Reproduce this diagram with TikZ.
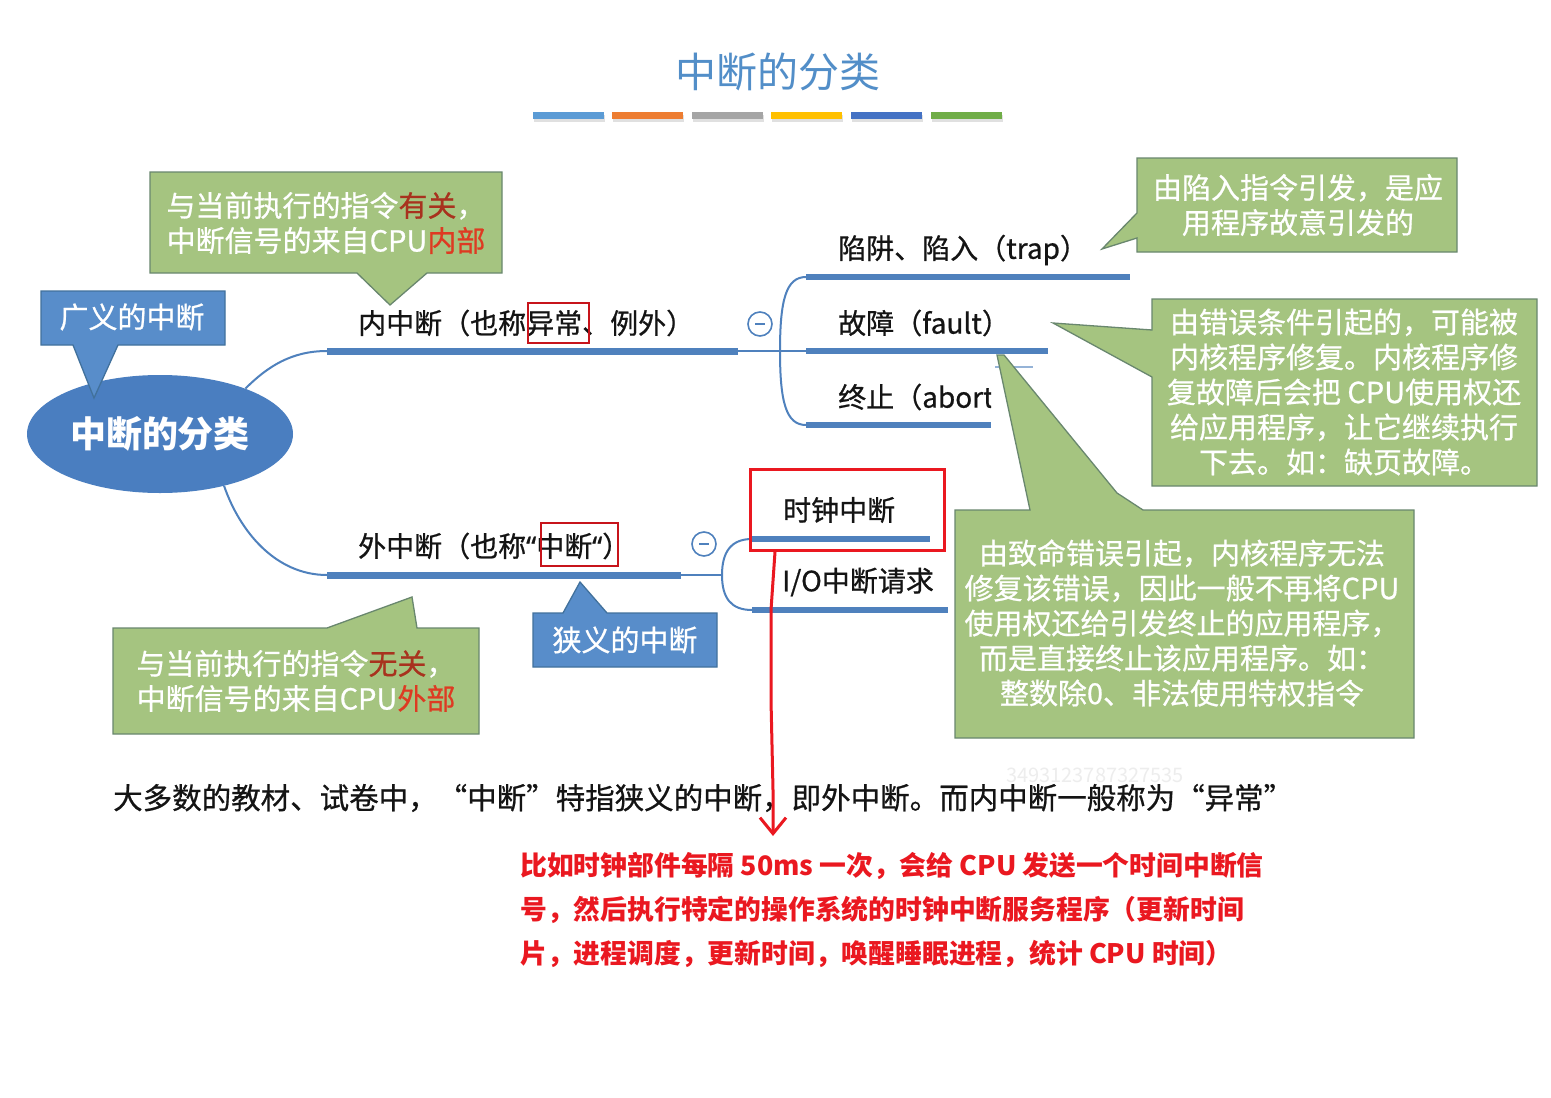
\documentclass[tikz,border=0pt]{standalone}
\usepackage{fontspec}
\setmainfont{Noto Sans CJK SC}
\newfontfamily\med[FakeBold=0.7]{Noto Sans CJK SC}
\newfontfamily\latinq[FakeBold=0.7]{Noto Sans}
\usetikzlibrary{shapes.geometric,arrows.meta,calc}
\definecolor{barblue}{RGB}{79,129,189}
\definecolor{ellblue}{RGB}{74,126,192}
\definecolor{boxblue}{RGB}{88,141,202}
\definecolor{boxblueline}{RGB}{65,113,156}
\definecolor{titleblue}{RGB}{82,142,200}
\definecolor{cgreen}{RGB}{165,196,128}
\definecolor{cgreenline}{RGB}{105,135,110}
\definecolor{txtblack}{RGB}{20,20,20}
\definecolor{darkred}{RGB}{168,50,30}
\definecolor{brred}{RGB}{222,58,34}
\definecolor{annred}{RGB}{234,24,32}
\definecolor{c1}{RGB}{91,155,213}
\definecolor{c2}{RGB}{237,125,49}
\definecolor{c3}{RGB}{165,165,165}
\definecolor{c4}{RGB}{255,192,0}
\definecolor{c5}{RGB}{68,114,196}
\definecolor{c6}{RGB}{112,173,71}
\begin{document}
\begin{tikzpicture}[x=1pt,y=-1pt,
  lbl/.style={inner sep=0,anchor=west,text=txtblack,font=\med\fontsize{28}{34}\selectfont},
  cwhite/.style={inner sep=0,align=center,text=white,font=\med\fontsize{29}{35}\selectfont},
  thinb/.style={draw=barblue,line width=2},
  thickb/.style={draw=barblue,line width=7},
  childb/.style={draw=barblue,line width=6},
  gcall/.style={fill=cgreen,draw=cgreenline,line width=1.3,line join=miter},
  bcall/.style={fill=boxblue,draw=boxblueline,line width=1.3},
  redbox/.style={draw=annred!85!black,line width=2.5},
  minus/.style={circle,draw=barblue,line width=1.6,fill=white,minimum size=24,inner sep=0}]
\useasboundingbox (0,0) rectangle (1551,1098);
\fill[white] (0,0) rectangle (1551,1098);

% title
\node[inner sep=0,text=titleblue,font=\fontsize{41}{48}\selectfont] (title) at (778,72) {中断的分类};
\foreach \x/\c in {533/c1,612/c2,692/c3,771/c4,851/c5,931/c6}{
  \fill[black!12] (\x+1,115) rectangle (\x+72,122);
  \fill[\c] (\x,112) rectangle (\x+71,119);
}

% root ellipse
\node[ellipse,fill=ellblue,minimum width=266,minimum height=118,inner sep=0,
      text=white,font=\bfseries\fontsize{36}{40}\selectfont] (root) at (160,434) {中断的分类};

% callout: 广义的中断
\path[bcall] (41,291) -- (225,291) -- (225,345) -- (118,345) -- (94,398) -- (73,345) -- (41,345) -- cycle;
\node[cwhite] (wide) at (132,317) {广义的中断};

% main branches
\coordinate (b1s) at (327,351);
\coordinate (b1e) at (738,351);
\coordinate (b2s) at (327,575);
\coordinate (b2e) at (681,575);
\draw[thinb] (root.28) .. controls (268,366) and (292,351) .. (b1s);
\draw[thinb] (root.-39) .. controls (240,532) and (276,575) .. (b2s);
\draw[thickb] (b1s) -- (b1e);
\draw[thickb] (b2s) -- (b2e);

% upper sub-branches
\coordinate (k1) at (806,277);
\coordinate (k2) at (806,351);
\coordinate (k3) at (806,425);
\draw[thinb] (b1e) -- (k2);
\draw[thinb] (k1) .. controls (786,277) and (780,300) .. (780,351) .. controls (780,402) and (786,425) .. (k3);
\draw[childb] (k1) -- (1130,277);
\draw[childb] (k2) -- (1048,351);
\draw[childb] (k3) -- (991,425);
\draw[draw=barblue!60,line width=2] (995,367) -- (1033,367);

% lower sub-branches
\coordinate (m1) at (752,539);
\coordinate (m2) at (752,610);
\draw[thinb] (b2e) -- (722,575);
\draw[thinb] (m1) .. controls (731,539) and (722,552) .. (722,575) .. controls (722,598) and (731,610) .. (m2);
\draw[childb] (m1) -- (930,539);
\draw[childb] (m2) -- (948,610);

% minus circles
\node[minus] (mn1) at (760,324) {};
\draw[barblue,line width=1.6] ($(mn1.center)+(-5,0)$) -- ($(mn1.center)+(5,0)$);
\node[minus] (mn2) at (704,544) {};
\draw[barblue,line width=1.6] ($(mn2.center)+(-5,0)$) -- ($(mn2.center)+(5,0)$);

% branch labels
\node[lbl] (inner) at (358,323) {内中断（也称异常、例外）};
\draw[redbox] (528,303) rectangle (589,343);
\node[lbl] (trap) at (838,250) {陷阱、陷入（trap）};
\node[lbl] (fault) at (838,323) {故障（fault）};
\begin{scope}
\clip (820,370) rectangle (991,432);
\node[lbl] (abort) at (838,397) {终止（abort）};
\end{scope}
\node[lbl] (outer) at (358,546) {外中断（也称{\latinq “}中断{\latinq “}）};
\draw[redbox] (541,523) rectangle (618,566);
\node[lbl] (clock) at (783,510) {时钟中断};
\node[lbl] (io) at (782,582) {I/O中断请求};

% callout: 狭义的中断
\path[bcall] (533,613) -- (563,613) -- (580,582) -- (607,613) -- (717,613) -- (717,667) -- (533,667) -- cycle;
\node[cwhite] (narrow) at (625,640) {狭义的中断};

% green callouts
\path[gcall] (150,172) -- (502,172) -- (502,273) -- (427,273) -- (390,305) -- (357,273) -- (150,273) -- cycle;
\node[cwhite] (c_in) at (326,223) {与当前执行的指令{\color{darkred}有关}，\\中断信号的来自CPU{\color{brred}内部}};

\path[gcall] (113,628) -- (327,628) -- (412,597) -- (417,628) -- (479,628) -- (479,734) -- (113,734) -- cycle;
\node[cwhite] (c_out) at (296,681) {与当前执行的指令{\color{darkred}无关}，\\中断信号的来自CPU{\color{brred}外部}};

\path[gcall] (1137,158) -- (1457,158) -- (1457,252) -- (1137,252) -- (1137,238) -- (1102,249) -- (1137,213) -- cycle;
\node[cwhite] (c_trap) at (1298,205) {由陷入指令引发，是应\\用程序故意引发的};

\path[gcall] (1152,299) -- (1537,299) -- (1537,486) -- (1152,486) -- (1152,377) -- (1053,323) -- (1152,330) -- cycle;
\node[cwhite] (c_fault) at (1344,392) {由错误条件引起的，可能被\\内核程序修复。内核程序修\\复故障后会把 CPU使用权还\\给应用程序，让它继续执行\\下去。如：缺页故障。};

\path[gcall] (955,510) -- (1030,510) -- (997,355) -- (1004,355) -- (1117,493) -- (1143,510) -- (1414,510) -- (1414,738) -- (955,738) -- cycle;
\node[cwhite] (c_abort) at (1182,623) {由致命错误引起，内核程序无法\\修复该错误，因此一般不再将CPU\\使用权还给引发终止的应用程序，\\而是直接终止该应用程序。如：\\整数除0、非法使用特权指令};

% faint watermark
\node[text=black!7,font=\fontsize{20}{24}\selectfont,inner sep=0] (wm) at (1095,775) {3493123787327535};

% bottom note
\node[lbl,font=\med\fontsize{29.5}{34}\selectfont] (note) at (113,798) {大多数的教材、试卷中，“中断”特指狭义的中断，即外中断。而内中断一般称为“异常”};

% red annotation
\node[draw=annred,line width=3.5,minimum width=194,minimum height=81,inner sep=0] (clockbox) at (847.5,510) {};
\coordinate (arrS) at (775,552);
\coordinate (arrE) at (773,836);
\draw[annred,line width=3,line join=round,-{Straight Barb[length=16,width=26]}] (arrS) -- (771,610) -- (771,700) -- (773,790) -- (arrE);
\node[anchor=west,inner sep=0,align=left,text=annred,font=\bfseries\fontsize{26.8}{44}\selectfont] (expl) at (520,910) {比如时钟部件每隔 50ms 一次，会给 CPU 发送一个时间中断信\\号，然后执行特定的操作系统的时钟中断服务程序（更新时间\\片，进程调度，更新时间，唤醒睡眠进程，统计 CPU 时间）};
\end{tikzpicture}
\end{document}
